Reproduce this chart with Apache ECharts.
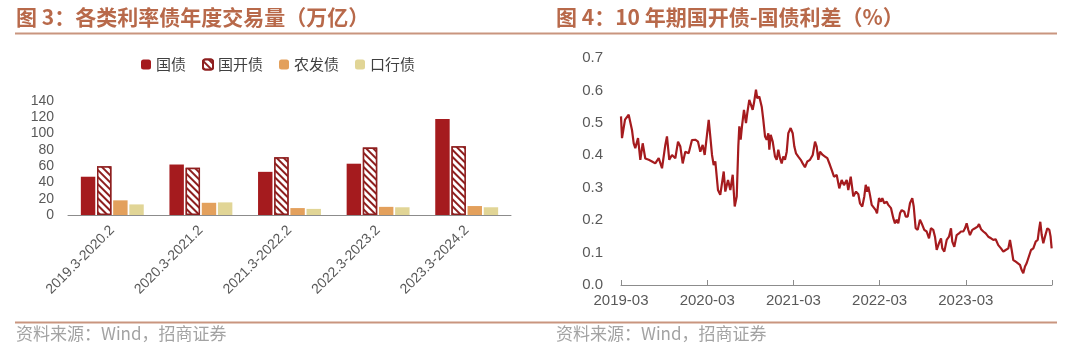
<!DOCTYPE html>
<html><head><meta charset="utf-8">
<script src="https://cdn.jsdelivr.net/npm/echarts@6/dist/echarts.min.js"></script>
<style>html,body{margin:0;padding:0;background:#fff}#c{width:1080px;height:350px}</style>
</head><body><div id="c"></div>
<script>
// ---- Figure 3: annual trading volume (万亿) ----
const barCategories = ['2019.3-2020.2', '2020.3-2021.2', '2021.3-2022.2', '2022.3-2023.2', '2023.3-2024.2'];
const govBond  = [47, 62, 53, 63, 118];   // 国债
const cdbBond  = [60, 58, 71, 83, 84.5];  // 国开债
const adbcBond = [18, 15, 8.5, 10, 11];   // 农发债
const eximBond = [13, 15.5, 7.5, 9.5, 9.5]; // 口行债
const barYTicks = [0, 20, 40, 60, 80, 100, 120, 140];

// ---- Figure 4: 10Y CDB - CGB spread (%) ----
// months elapsed since 2019-03
const spreadMonths = [0,0.14,0.56,1.07,1.53,1.77,1.99,2.37,2.69,3.02,3.38,3.86,4.32,4.77,5.25,5.71,6.17,6.40,6.72,7.10,7.56,7.94,8.26,8.59,8.95,9.42,9.88,10.34,10.72,11.04,11.37,11.65,11.97,12.21,12.43,12.67,12.90,13.13,13.50,13.82,14.30,14.52,14.90,15.22,15.55,15.83,16.11,16.33,16.47,16.66,16.84,17.12,17.40,17.58,17.86,18.06,18.33,18.51,18.79,18.97,19.25,19.59,19.81,20.05,20.28,20.51,20.65,20.84,21.12,21.44,21.67,21.90,22.13,22.37,22.59,22.83,23.07,23.29,23.62,23.90,24.13,24.36,24.68,25.02,25.29,25.61,25.94,26.31,26.69,27.01,27.24,27.47,27.70,28.08,28.40,28.72,29.09,29.33,29.65,30.03,30.39,30.72,31.04,31.42,31.64,31.98,32.34,32.72,33.04,33.27,33.59,33.87,34.07,34.25,34.43,34.66,34.90,35.12,35.46,35.64,35.92,36.19,36.38,36.65,36.99,37.21,37.59,37.91,38.14,38.38,38.60,38.84,39.08,39.44,39.63,39.91,40.23,40.55,40.75,41.02,41.30,41.62,41.86,42.22,42.55,42.88,43.15,43.47,43.71,43.95,44.27,44.55,44.73,45.01,45.34,45.66,45.94,46.12,46.40,46.73,47.05,47.33,47.65,47.89,48.12,48.35,48.58,48.90,49.28,49.65,49.84,50.12,50.44,50.77,51.13,51.51,51.83,52.16,52.52,52.90,53.22,53.55,53.92,54.15,54.39,54.61,54.95,55.22,55.54,55.78,56.00,56.24,56.47,56.70,57.08,57.40,57.73,58.01,58.19,58.37,58.57,58.79,59.03,59.35,59.63,59.80,59.95];
const spreadValues = [0.52,0.453,0.51,0.525,0.478,0.437,0.422,0.453,0.386,0.437,0.39,0.386,0.381,0.375,0.391,0.36,0.432,0.458,0.386,0.401,0.391,0.442,0.427,0.375,0.411,0.406,0.447,0.448,0.442,0.411,0.432,0.401,0.463,0.509,0.458,0.401,0.37,0.381,0.293,0.278,0.35,0.288,0.324,0.293,0.34,0.242,0.273,0.427,0.489,0.448,0.489,0.54,0.499,0.53,0.571,0.576,0.54,0.561,0.602,0.576,0.581,0.55,0.509,0.458,0.448,0.468,0.417,0.463,0.442,0.396,0.386,0.417,0.391,0.375,0.396,0.386,0.411,0.468,0.484,0.468,0.427,0.406,0.396,0.386,0.375,0.363,0.381,0.386,0.401,0.442,0.427,0.386,0.411,0.401,0.396,0.391,0.37,0.355,0.334,0.339,0.298,0.324,0.308,0.324,0.293,0.334,0.273,0.288,0.28,0.252,0.242,0.273,0.309,0.288,0.303,0.278,0.247,0.242,0.231,0.221,0.268,0.257,0.268,0.252,0.257,0.247,0.237,0.206,0.19,0.201,0.19,0.221,0.231,0.226,0.211,0.211,0.252,0.268,0.242,0.175,0.170,0.201,0.19,0.17,0.165,0.144,0.175,0.17,0.149,0.108,0.129,0.144,0.113,0.103,0.139,0.149,0.175,0.134,0.118,0.154,0.159,0.165,0.165,0.175,0.19,0.17,0.154,0.17,0.175,0.18,0.188,0.172,0.165,0.159,0.149,0.144,0.139,0.141,0.123,0.113,0.103,0.108,0.113,0.139,0.108,0.077,0.072,0.067,0.062,0.046,0.036,0.057,0.067,0.067,0.108,0.113,0.134,0.139,0.170,0.195,0.154,0.129,0.15,0.175,0.17,0.15,0.113];
const spreadTickLabels = ['2019-03', '2020-03', '2021-03', '2022-03', '2023-03', ''];

const DARK_RED = '#A51B1E';
const LATIN = '"Liberation Sans", Arial, sans-serif';
const CJK = '"Noto Sans CJK SC", "Liberation Sans", sans-serif';
const AXIS_GREY = '#8C8C8C';
const TXT_GREY = '#595959';
const TITLE_C = '#B8694A';
const RULE_C = '#C9957F';
const SRC_C = '#A3A3A3';

const chart = echarts.init(document.getElementById('c'), null, {renderer: 'canvas'});

const option = {
  animation: false,
  backgroundColor: '#fff',
  legend: {
    data: ['国债', '国开债', '农发债', '口行债'],
    left: 136, top: 52,
    itemWidth: 10, itemHeight: 10, itemGap: 16,
    textStyle: {fontSize: 15, color: '#404040', fontFamily: CJK}
  },
  grid: [
    {left: 68, right: 569, top: 101, bottom: 135},
    {left: 621, right: 28, top: 58, bottom: 65}
  ],
  xAxis: [
    {
      type: 'category', gridIndex: 0, data: barCategories,
      axisLine: {lineStyle: {color: AXIS_GREY, width: 1}},
      axisTick: {inside: true, length: 5, lineStyle: {color: AXIS_GREY}},
      axisLabel: {rotate: 45, fontSize: 14, color: TXT_GREY, fontFamily: LATIN, margin: 13, interval: 0}
    },
    {
      type: 'value', gridIndex: 1, min: 0, max: 60, interval: 12,
      axisLine: {lineStyle: {color: AXIS_GREY, width: 1}},
      axisTick: {inside: true, length: 5, lineStyle: {color: AXIS_GREY}},
      splitLine: {show: false},
      axisLabel: {fontSize: 15, color: TXT_GREY, fontFamily: LATIN, margin: 8,
        formatter: v => spreadTickLabels[Math.round(v / 12)]}
    }
  ],
  yAxis: [
    {
      type: 'value', gridIndex: 0, min: barYTicks[0], max: barYTicks[barYTicks.length - 1], interval: 20,
      axisLine: {show: false}, axisTick: {show: false}, splitLine: {show: false},
      axisLabel: {fontSize: 14, color: TXT_GREY, fontFamily: LATIN, margin: 14}
    },
    {
      type: 'value', gridIndex: 1, min: 0, max: 0.7, interval: 0.1,
      axisLine: {show: false}, axisTick: {show: false}, splitLine: {show: false},
      axisLabel: {fontSize: 15, color: TXT_GREY, fontFamily: LATIN, margin: 18,
        formatter: v => v.toFixed(1)}
    }
  ],
  series: [
    {name: '国债', type: 'bar', xAxisIndex: 0, yAxisIndex: 0, data: govBond,
      barCategoryGap: '29%', barGap: '12%',
      itemStyle: {color: DARK_RED}},
    {name: '国开债', type: 'bar', xAxisIndex: 0, yAxisIndex: 0, data: cdbBond,
      itemStyle: {color: '#ffffff', borderColor: '#8E1F1F', borderWidth: 1.5,
        decal: {symbol: 'rect', symbolSize: 1, dashArrayX: [1, 0], dashArrayY: [2, 2.2],
          rotation: Math.PI / 4, color: '#8E1F1F', backgroundColor: '#ffffff'}}},
    {name: '农发债', type: 'bar', xAxisIndex: 0, yAxisIndex: 0, data: adbcBond,
      itemStyle: {color: '#E3A05C'}},
    {name: '口行债', type: 'bar', xAxisIndex: 0, yAxisIndex: 0, data: eximBond,
      itemStyle: {color: '#E1D596'}},
    {name: '利差', type: 'line', xAxisIndex: 1, yAxisIndex: 1,
      data: spreadMonths.map((m, i) => [m, spreadValues[i]]),
      showSymbol: false, symbol: 'none',
      lineStyle: {color: DARK_RED, width: 2.2}}
  ],
  graphic: [
    {type: 'text', left: 16, top: 7, style: {text: '图 3：各类利率债年度交易量（万亿）', fill: TITLE_C,
      font: 'bold 21px ' + CJK}},
    {type: 'text', left: 556, top: 7, style: {text: '图 4：10 年期国开债-国债利差（%）', fill: TITLE_C,
      font: 'bold 21px ' + CJK}},
    {type: 'line', shape: {x1: 15, y1: 33.5, x2: 1057, y2: 33.5}, style: {stroke: RULE_C, lineWidth: 2}},
    {type: 'line', shape: {x1: 15, y1: 322.5, x2: 1057, y2: 322.5}, style: {stroke: RULE_C, lineWidth: 2}},
    {type: 'text', left: 16, top: 325, style: {text: '资料来源：Wind，招商证券', fill: SRC_C, font: '17px ' + CJK}},
    {type: 'text', left: 556, top: 325, style: {text: '资料来源：Wind，招商证券', fill: SRC_C, font: '17px ' + CJK}}
  ]
};
chart.setOption(option);
</script>
</body></html>
